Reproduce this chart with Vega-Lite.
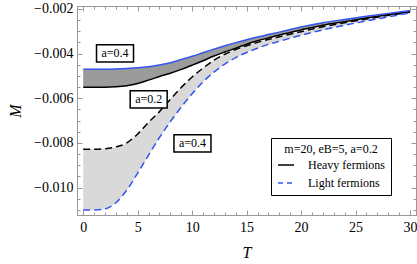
{
  "$schema": "https://vega.github.io/schema/vega-lite/v6.json",
  "width": 339,
  "height": 209,
  "autosize": "none",
  "padding": {"left": 77, "top": 6, "right": 1, "bottom": 49},
  "background": "white",
  "config": {
    "view": {"stroke": null},
    "axis": {
      "grid": false,
      "domainColor": "#999999",
      "tickColor": "#999999",
      "labelColor": "black",
      "labelFont": "Liberation Serif",
      "labelFontSize": 14,
      "titleFont": "Liberation Serif",
      "titleFontSize": 16,
      "titleFontStyle": "italic",
      "titleFontWeight": "normal",
      "titleColor": "black",
      "labelFlush": false,
      "labelOverlap": false
    }
  },
  "resolve": {"axis": {"x": "independent", "y": "independent"}},
  "datasets": {
    "curves": [
      {"T": 0, "solid_blue": -0.00470, "solid_black": -0.00551, "dashed_black": -0.00828, "dashed_blue": -0.01101},
      {"T": 1, "solid_blue": -0.00470, "solid_black": -0.00551, "dashed_black": -0.00828, "dashed_blue": -0.01101},
      {"T": 2, "solid_blue": -0.00470, "solid_black": -0.00551, "dashed_black": -0.00826, "dashed_blue": -0.01096},
      {"T": 3, "solid_blue": -0.00469, "solid_black": -0.00549, "dashed_black": -0.00818, "dashed_blue": -0.01068},
      {"T": 4, "solid_blue": -0.00467, "solid_black": -0.00544, "dashed_black": -0.00800, "dashed_blue": -0.01012},
      {"T": 5, "solid_blue": -0.00464, "solid_black": -0.00534, "dashed_black": -0.00760, "dashed_blue": -0.00935},
      {"T": 6, "solid_blue": -0.00459, "solid_black": -0.00519, "dashed_black": -0.00708, "dashed_blue": -0.00855},
      {"T": 7, "solid_blue": -0.00451, "solid_black": -0.00503, "dashed_black": -0.00660, "dashed_blue": -0.00776},
      {"T": 8, "solid_blue": -0.00441, "solid_black": -0.00488, "dashed_black": -0.00605, "dashed_blue": -0.00705},
      {"T": 9, "solid_blue": -0.00427, "solid_black": -0.00471, "dashed_black": -0.00552, "dashed_blue": -0.00640},
      {"T": 10, "solid_blue": -0.00412, "solid_black": -0.00452, "dashed_black": -0.00505, "dashed_blue": -0.00580},
      {"T": 11, "solid_blue": -0.00396, "solid_black": -0.00432, "dashed_black": -0.00465, "dashed_blue": -0.00527},
      {"T": 12, "solid_blue": -0.00380, "solid_black": -0.00411, "dashed_black": -0.00430, "dashed_blue": -0.00483},
      {"T": 13, "solid_blue": -0.00365, "solid_black": -0.00393, "dashed_black": -0.00403, "dashed_blue": -0.00447},
      {"T": 14, "solid_blue": -0.00351, "solid_black": -0.00376, "dashed_black": -0.00382, "dashed_blue": -0.00418},
      {"T": 15, "solid_blue": -0.00338, "solid_black": -0.00358, "dashed_black": -0.00365, "dashed_blue": -0.00395},
      {"T": 16, "solid_blue": -0.00326, "solid_black": -0.00343, "dashed_black": -0.00350, "dashed_blue": -0.00376},
      {"T": 17, "solid_blue": -0.00315, "solid_black": -0.00330, "dashed_black": -0.00337, "dashed_blue": -0.00359},
      {"T": 18, "solid_blue": -0.00304, "solid_black": -0.00317, "dashed_black": -0.00325, "dashed_blue": -0.00345},
      {"T": 20, "solid_blue": -0.00281, "solid_black": -0.00294, "dashed_black": -0.00302, "dashed_blue": -0.00318},
      {"T": 22, "solid_blue": -0.00262, "solid_black": -0.00273, "dashed_black": -0.00280, "dashed_blue": -0.00294},
      {"T": 24, "solid_blue": -0.00247, "solid_black": -0.00257, "dashed_black": -0.00262, "dashed_blue": -0.00273},
      {"T": 26, "solid_blue": -0.00233, "solid_black": -0.00241, "dashed_black": -0.00245, "dashed_blue": -0.00254},
      {"T": 28, "solid_blue": -0.00220, "solid_black": -0.00226, "dashed_black": -0.00229, "dashed_blue": -0.00236},
      {"T": 30, "solid_blue": -0.00208, "solid_black": -0.00212, "dashed_black": -0.00215, "dashed_blue": -0.00218}
    ],
    "labels": [
      {"label": "a=0.4", "T": 2.92, "M": -0.00399},
      {"label": "a=0.2", "T": 6.01, "M": -0.00605},
      {"label": "a=0.4", "T": 10.03, "M": -0.00802}
    ],
    "legend": [
      {"fermion": "Heavy fermions"},
      {"fermion": "Light fermions"}
    ]
  },
  "layer": [
    {
      "data": {"name": "curves"},
      "mark": {"type": "area", "interpolate": "monotone", "color": "#9b9b9b"},
      "encoding": {
        "x": {"field": "T", "type": "quantitative", "scale": {"domain": [-0.57, 30.55], "nice": false, "zero": false},
              "axis": {"orient": "bottom", "values": [0, 5, 10, 15, 20, 25, 30], "format": "d", "tickSize": -5, "labelPadding": 10, "title": "T", "titlePadding": 10}},
        "y": {"field": "solid_blue", "type": "quantitative", "scale": {"domain": [-0.01123, -0.00187], "nice": false, "zero": false},
              "axis": {"orient": "left", "values": [-0.01, -0.008, -0.006, -0.004, -0.002], "format": ".3f", "tickSize": -5, "labelPadding": 9, "title": "M", "titlePadding": 10}},
        "y2": {"field": "solid_black"}
      }
    },
    {
      "data": {"name": "curves"},
      "mark": {"type": "area", "interpolate": "monotone", "color": "#d9d9d9"},
      "encoding": {
        "x": {"field": "T", "type": "quantitative", "scale": {"domain": [-0.57, 30.55], "nice": false, "zero": false},
              "axis": {"orient": "bottom", "values": [0,1,2,3,4,5,6,7,8,9,10,11,12,13,14,15,16,17,18,19,20,21,22,23,24,25,26,27,28,29,30], "labels": false, "tickSize": -3, "title": null}},
        "y": {"field": "dashed_black", "type": "quantitative", "scale": {"domain": [-0.01123, -0.00187], "nice": false, "zero": false},
              "axis": {"orient": "left", "values": [-0.011,-0.0105,-0.01,-0.0095,-0.009,-0.0085,-0.008,-0.0075,-0.007,-0.0065,-0.006,-0.0055,-0.005,-0.0045,-0.004,-0.0035,-0.003,-0.0025,-0.002], "labels": false, "tickSize": -3, "title": null}},
        "y2": {"field": "dashed_blue"}
      }
    },
    {
      "data": {"name": "curves"},
      "mark": {"type": "line", "interpolate": "monotone", "color": "black", "strokeWidth": 1.5},
      "encoding": {
        "x": {"field": "T", "type": "quantitative", "scale": {"domain": [-0.57, 30.55], "nice": false, "zero": false},
              "axis": {"orient": "top", "values": [0, 5, 10, 15, 20, 25, 30], "labels": false, "tickSize": -5, "title": null}},
        "y": {"field": "solid_black", "type": "quantitative", "scale": {"domain": [-0.01123, -0.00187], "nice": false, "zero": false},
              "axis": {"orient": "right", "values": [-0.01, -0.008, -0.006, -0.004, -0.002], "labels": false, "tickSize": -5, "title": null}}
      }
    },
    {
      "data": {"name": "curves"},
      "mark": {"type": "line", "interpolate": "monotone", "color": "#3355ee", "strokeWidth": 1.5},
      "encoding": {
        "x": {"field": "T", "type": "quantitative", "scale": {"domain": [-0.57, 30.55], "nice": false, "zero": false},
              "axis": {"orient": "top", "values": [0,1,2,3,4,5,6,7,8,9,10,11,12,13,14,15,16,17,18,19,20,21,22,23,24,25,26,27,28,29,30], "labels": false, "tickSize": -3, "title": null}},
        "y": {"field": "solid_blue", "type": "quantitative", "scale": {"domain": [-0.01123, -0.00187], "nice": false, "zero": false},
              "axis": {"orient": "right", "values": [-0.011,-0.0105,-0.01,-0.0095,-0.009,-0.0085,-0.008,-0.0075,-0.007,-0.0065,-0.006,-0.0055,-0.005,-0.0045,-0.004,-0.0035,-0.003,-0.0025,-0.002], "labels": false, "tickSize": -3, "title": null}}
      }
    },
    {
      "data": {"name": "curves"},
      "mark": {"type": "line", "interpolate": "monotone", "color": "black", "strokeWidth": 1.5, "strokeDash": [7, 4]},
      "encoding": {
        "x": {"field": "T", "type": "quantitative", "scale": {"domain": [-0.57, 30.55], "nice": false, "zero": false}, "axis": null},
        "y": {"field": "dashed_black", "type": "quantitative", "scale": {"domain": [-0.01123, -0.00187], "nice": false, "zero": false}, "axis": null}
      }
    },
    {
      "data": {"name": "curves"},
      "mark": {"type": "line", "interpolate": "monotone", "color": "#3355ee", "strokeWidth": 1.5, "strokeDash": [7, 4]},
      "encoding": {
        "x": {"field": "T", "type": "quantitative", "scale": {"domain": [-0.57, 30.55], "nice": false, "zero": false}, "axis": null},
        "y": {"field": "dashed_blue", "type": "quantitative", "scale": {"domain": [-0.01123, -0.00187], "nice": false, "zero": false}, "axis": null}
      }
    },
    {
      "data": {"name": "labels"},
      "mark": {"type": "point", "shape": "M-1,-0.47H1V0.47H-1Z", "size": 1369, "filled": true, "fill": "white", "stroke": "black", "strokeWidth": 1.5, "opacity": 1},
      "encoding": {
        "x": {"field": "T", "type": "quantitative", "scale": {"domain": [-0.57, 30.55], "nice": false, "zero": false}, "axis": null},
        "y": {"field": "M", "type": "quantitative", "scale": {"domain": [-0.01123, -0.00187], "nice": false, "zero": false}, "axis": null}
      }
    },
    {
      "data": {"name": "labels"},
      "mark": {"type": "text", "font": "Liberation Serif", "fontSize": 12, "align": "center", "baseline": "middle", "color": "black"},
      "encoding": {
        "x": {"field": "T", "type": "quantitative", "scale": {"domain": [-0.57, 30.55], "nice": false, "zero": false}, "axis": null},
        "y": {"field": "M", "type": "quantitative", "scale": {"domain": [-0.01123, -0.00187], "nice": false, "zero": false}, "axis": null},
        "text": {"field": "label", "type": "nominal"}
      }
    },
    {
      "data": {"name": "legend"},
      "mark": {"type": "line", "strokeWidth": 1.5},
      "encoding": {
        "color": {"field": "fermion", "type": "nominal",
                  "scale": {"domain": ["Heavy fermions", "Light fermions"], "range": ["black", "#3355ee"]},
                  "legend": {"title": "m=20, eB=5, a=0.2", "orient": "none", "legendX": 194, "legendY": 132, "titleFont": "Liberation Serif", "titleFontSize": 12, "titleFontWeight": "normal", "titleColor": "black", "titleAnchor": "middle", "titlePadding": 0, "labelFont": "Liberation Serif", "labelFontSize": 12, "labelColor": "black", "symbolType": "stroke", "symbolSize": 256, "symbolStrokeWidth": 1.5, "labelOffset": 13, "rowPadding": 3, "padding": 6, "strokeColor": "black", "fillColor": "white"}},
        "strokeDash": {"field": "fermion", "type": "nominal",
                  "scale": {"domain": ["Heavy fermions", "Light fermions"], "range": [[1, 0], [5, 4]]},
                  "legend": {"title": "m=20, eB=5, a=0.2", "orient": "none", "legendX": 194, "legendY": 132, "titleFont": "Liberation Serif", "titleFontSize": 12, "titleFontWeight": "normal", "titleColor": "black", "titleAnchor": "middle", "titlePadding": 0, "labelFont": "Liberation Serif", "labelFontSize": 12, "labelColor": "black", "symbolType": "stroke", "symbolSize": 256, "symbolStrokeWidth": 1.5, "labelOffset": 13, "rowPadding": 3, "padding": 6, "strokeColor": "black", "fillColor": "white"}}
      }
    }
  ]
}
